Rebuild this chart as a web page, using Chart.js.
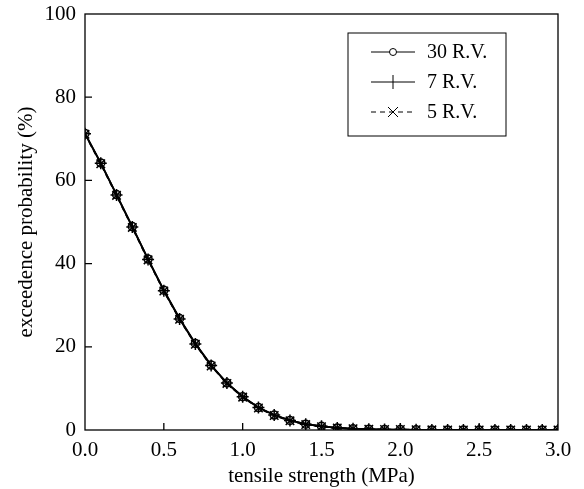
<!DOCTYPE html>
<html>
<head>
<meta charset="utf-8">
<script src="https://cdn.jsdelivr.net/npm/chart.js@4.4.0/dist/chart.umd.min.js"></script>
<style>
  body { margin: 0; background: #fff; }
  canvas { display: block; }
</style>
</head>
<body>
<canvas id="chart" width="584" height="489"></canvas>
<script>
// tensile strength (MPa)
const strength = [0.0, 0.1, 0.2, 0.3, 0.4, 0.5, 0.6, 0.7, 0.8, 0.9, 1.0,
  1.1, 1.2, 1.3, 1.4, 1.5, 1.6, 1.7, 1.8, 1.9, 2.0,
  2.1, 2.2, 2.3, 2.4, 2.5, 2.6, 2.7, 2.8, 2.9, 3.0];

// exceedence probability (%)
const rv30 = [71.3, 64.2, 56.6, 48.9, 41.1, 33.6, 26.8, 20.8, 15.6, 11.3, 8.0,
  5.4, 3.6, 2.3, 1.4, 0.9, 0.5, 0.3, 0.2, 0.1, 0.1,
  0.05, 0.03, 0.02, 0.01, 0, 0, 0, 0, 0, 0];
const rv7 = [71.2, 64.1, 56.5, 48.8, 41.0, 33.5, 26.7, 20.7, 15.5, 11.3, 8.0,
  5.4, 3.6, 2.3, 1.4, 0.9, 0.5, 0.3, 0.2, 0.1, 0.1,
  0.05, 0.03, 0.02, 0.01, 0, 0, 0, 0, 0, 0];
const rv5 = [71.1, 64.0, 56.4, 48.7, 40.9, 33.4, 26.6, 20.6, 15.4, 11.2, 7.9,
  5.3, 3.5, 2.2, 1.3, 0.8, 0.5, 0.3, 0.2, 0.1, 0.1,
  0.05, 0.03, 0.02, 0.01, 0, 0, 0, 0, 0, 0];

const xTicks = [0.5, 1.0, 1.5, 2.0, 2.5];
const yTicks = [20, 40, 60, 80];

const FONT = "'Liberation Serif', 'Times New Roman', serif";

function pts(ys) {
  return strength.map((x, i) => ({ x: x, y: ys[i] }));
}

// frame, inward ticks and the boxed legend
const framePlugin = {
  id: "frame",
  afterDraw(chart) {
    const ctx = chart.ctx;
    const a = chart.chartArea;
    const xs = chart.scales.x, ys = chart.scales.y;
    ctx.save();
    ctx.strokeStyle = "#000";
    ctx.lineWidth = 1.3;
    ctx.strokeRect(a.left, a.top, a.right - a.left, a.bottom - a.top);
    ctx.beginPath();
    xTicks.forEach(v => {
      const px = xs.getPixelForValue(v);
      ctx.moveTo(px, a.bottom);
      ctx.lineTo(px, a.bottom - 7);
    });
    yTicks.forEach(v => {
      const py = ys.getPixelForValue(v);
      ctx.moveTo(a.left, py);
      ctx.lineTo(a.left + 7, py);
    });
    ctx.stroke();

    // legend
    const lx = a.left + 263, ly = a.top + 19;
    ctx.lineWidth = 1;
    ctx.strokeRect(lx, ly, 158, 103);
    const rows = [
      { label: "30 R.V.", style: "circle", dash: [] },
      { label: "7 R.V.", style: "cross", dash: [] },
      { label: "5 R.V.", style: "crossRot", dash: [5, 4] }
    ];
    ctx.font = "20px " + FONT;
    ctx.textBaseline = "middle";
    rows.forEach((r, i) => {
      const y = ly + 19 + i * 30;
      const x0 = lx + 23, x1 = lx + 67, xm = (x0 + x1) / 2;
      ctx.setLineDash(r.dash);
      ctx.beginPath();
      ctx.moveTo(x0, y);
      ctx.lineTo(x1, y);
      ctx.stroke();
      ctx.setLineDash([]);
      ctx.beginPath();
      if (r.style === "circle") {
        ctx.arc(xm, y, 3.5, 0, Math.PI * 2);
        ctx.fillStyle = "#fff";
        ctx.fill();
        ctx.stroke();
      } else if (r.style === "cross") {
        ctx.moveTo(xm, y - 7);
        ctx.lineTo(xm, y + 7);
        ctx.stroke();
      } else {
        ctx.moveTo(xm - 5, y - 5);
        ctx.lineTo(xm + 5, y + 5);
        ctx.moveTo(xm + 5, y - 5);
        ctx.lineTo(xm - 5, y + 5);
        ctx.stroke();
      }
      ctx.fillStyle = "#000";
      ctx.fillText(r.label, lx + 79, y + 1);
    });
    ctx.restore();
  }
};

const ctx = document.getElementById("chart").getContext("2d");
new Chart(ctx, {
  type: "line",
  data: {
    datasets: [
      {
        label: "30 R.V.",
        data: pts(rv30),
        borderColor: "#000",
        borderWidth: 1.8,
        pointStyle: "circle",
        pointRadius: 4,
        pointBackgroundColor: "rgba(255,255,255,0)",
        pointBorderColor: "#000",
        pointBorderWidth: 1.5
      },
      {
        label: "7 R.V.",
        data: pts(rv7),
        borderColor: "#000",
        borderWidth: 1.8,
        pointStyle: "cross",
        pointRadius: 6,
        pointBorderColor: "#000",
        pointBorderWidth: 1.5
      },
      {
        label: "5 R.V.",
        data: pts(rv5),
        borderColor: "#000",
        borderWidth: 1.8,
        borderDash: [5, 4],
        pointStyle: "crossRot",
        pointRadius: 6,
        pointBorderColor: "#000",
        pointBorderWidth: 1.5
      }
    ]
  },
  options: {
    responsive: false,
    animation: false,
    layout: { padding: { top: 14, right: 26, left: 0, bottom: 0 } },
    plugins: {
      legend: { display: false },
      tooltip: { enabled: false }
    },
    scales: {
      x: {
        type: "linear",
        min: 0,
        max: 3,
        grid: { display: false, drawTicks: false },
        border: { display: false },
        ticks: {
          stepSize: 0.5,
          color: "#000",
          padding: 8,
          font: { family: FONT, size: 21 },
          maxRotation: 0,
          callback: v => v.toFixed(1)
        },
        title: {
          display: true,
          text: "tensile strength (MPa)",
          color: "#000",
          font: { family: FONT, size: 21 },
          padding: { top: 0, bottom: 0 }
        },
        afterFit: s => { s.height = 59; s.paddingLeft = 0; s.paddingRight = 0; }
      },
      y: {
        min: 0,
        max: 100,
        grid: { display: false, drawTicks: false },
        border: { display: false },
        ticks: {
          stepSize: 20,
          color: "#000",
          padding: 9,
          font: { family: FONT, size: 21 }
        },
        title: {
          display: true,
          text: "exceedence probability (%)",
          color: "#000",
          font: { family: FONT, size: 21 },
          padding: { top: 14, bottom: 0 }
        },
        afterFit: s => { s.width = 85; s.paddingTop = 0; s.paddingBottom = 0; }
      }
    }
  },
  plugins: [framePlugin]
});
</script>
</body>
</html>
